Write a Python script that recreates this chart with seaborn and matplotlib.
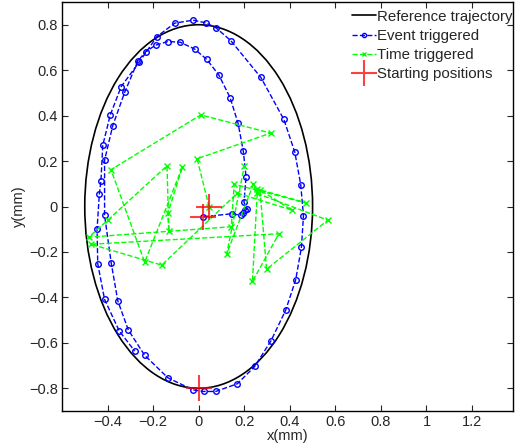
import numpy as np
import pandas as pd
import matplotlib
matplotlib.use("Agg")
import matplotlib.pyplot as plt
from matplotlib.patches import Ellipse
from matplotlib.lines import Line2D
import seaborn as sns

# reference trajectory (ellipse)
ref_center = (0.0, 0.0)
ref_radius_x = 0.5
ref_radius_y = 0.8

# event triggered trajectory
event_x = [0.021, 0.145, 0.188, 0.195, 0.204, 0.212, 0.199, 0.208, 0.196, 0.173,
           0.138, 0.089, 0.036, -0.018, -0.081, -0.136, -0.189, -0.233, -0.267,
           -0.325, -0.377, -0.413, -0.413, -0.384, -0.355, -0.309, -0.237, -0.135, -0.025,
           0.022, 0.075, 0.170, 0.246, 0.318, 0.382, 0.426, 0.451, 0.460, 0.448,
           0.422, 0.374, 0.273, 0.141, 0.078, 0.033, -0.025, -0.105, -0.183, -0.262,
           -0.340, -0.388, -0.421, -0.429, -0.436, -0.446, -0.443, -0.413, -0.349, -0.281]
event_y = [-0.045, -0.032, -0.039, -0.028, -0.017, -0.013, 0.019, 0.131, 0.243, 0.366,
           0.479, 0.578, 0.647, 0.693, 0.723, 0.726, 0.710, 0.681, 0.640,
           0.502, 0.356, 0.204, -0.038, -0.248, -0.415, -0.543, -0.655, -0.754, -0.807,
           -0.814, -0.814, -0.780, -0.704, -0.590, -0.456, -0.322, -0.180, -0.041, 0.096,
           0.239, 0.383, 0.568, 0.730, 0.785, 0.808, 0.820, 0.807, 0.748, 0.634,
           0.528, 0.403, 0.269, 0.112, 0.054, -0.100, -0.252, -0.409, -0.547, -0.636]

# time triggered trajectory
time_x = [0.046, -0.007, 0.316, 0.009, -0.385, -0.237, -0.071, -0.135, -0.131, -0.139,
          -0.399, -0.483, 0.143, 0.156, 0.470, 0.258, 0.236, 0.352, -0.473, -0.162,
          0.170, 0.409, 0.269, 0.298, 0.567, 0.254, 0.240, 0.123, 0.201]
time_y = [-0.002, 0.210, 0.323, 0.403, 0.162, -0.245, 0.175, -0.028, -0.110, 0.179,
          -0.060, -0.135, -0.089, 0.098, 0.016, 0.077, -0.330, -0.120, -0.166, -0.258,
          0.059, -0.016, 0.073, -0.276, -0.060, 0.058, 0.098, -0.209, 0.180]

# starting positions
start_x = [0.0, 0.046, 0.021]
start_y = [-0.8, -0.002, -0.045]

x_ticks = [-0.4, -0.2, 0, 0.2, 0.4, 0.6, 0.8, 1, 1.2]
y_ticks = [-0.8, -0.6, -0.4, -0.2, 0, 0.2, 0.4, 0.6, 0.8]

sns.set_style("white", {"xtick.direction": "in", "ytick.direction": "in",
                        "axes.edgecolor": "black"})
plt.rcParams['font.family'] = ['Liberation Sans', 'DejaVu Sans']

fig, ax = plt.subplots(figsize=(5.23, 4.45), dpi=100)
fig.subplots_adjust(left=0.1185, right=0.981, bottom=0.0764, top=0.9955)

ax.add_patch(Ellipse(ref_center, 2 * ref_radius_x, 2 * ref_radius_y,
                     fill=False, edgecolor='black', lw=1.2))

ev = pd.DataFrame({'x': event_x, 'y': event_y})
sns.lineplot(data=ev, x='x', y='y', sort=False, estimator=None, ax=ax,
             color='blue', linestyle='--', lw=1, marker='o', markersize=4,
             markerfacecolor='none', markeredgecolor='blue', markeredgewidth=1)

tt = pd.DataFrame({'x': time_x, 'y': time_y})
sns.lineplot(data=tt, x='x', y='y', sort=False, estimator=None, ax=ax,
             color='#00ff00', linestyle='--', lw=1, marker='x', markersize=4,
             markeredgecolor='#00ff00', markeredgewidth=1)

st = pd.DataFrame({'x': start_x, 'y': start_y})
sns.scatterplot(data=st, x='x', y='y', ax=ax, marker='+', s=360,
                color='red', linewidth=1.5, alpha=0.75, zorder=5)

ax.set_xlim(-0.6, 1.38)
ax.set_ylim(-0.9, 0.9)
ax.set_xticks(x_ticks)
ax.set_yticks(y_ticks)
fmt = lambda v: f"{v:g}".replace('-', '\u2212')
ax.set_xticklabels([fmt(v) for v in x_ticks], fontsize=10.5)
ax.set_yticklabels([fmt(v) for v in y_ticks], fontsize=10.5)
ax.tick_params(which='both', direction='in', length=4, width=0.8,
               top=True, right=True, bottom=True, left=True, pad=3)
for s in ax.spines.values():
    s.set_linewidth(1)
    s.set_color('black')
ax.set_xlabel("x(mm)", fontsize=10.5, labelpad=0)
ax.set_ylabel("y(mm)", fontsize=10.5, labelpad=2)

handles = [
    Line2D([], [], color='black', lw=1.2),
    Line2D([], [], color='blue', ls='--', lw=1, marker='o', markersize=3,
           markerfacecolor='none'),
    Line2D([], [], color='#00ff00', ls='--', lw=1, marker='x', markersize=3),
    Line2D([], [], color='red', ls='', marker='+', markersize=19, mew=1.5, alpha=0.75),
]
labels = ["Reference trajectory", "Event triggered", "Time triggered", "Starting positions"]
ax.legend(handles, labels, loc='upper right', bbox_to_anchor=(1.0155, 1.0),
          frameon=False, fontsize=10.8,
          handlelength=1.6, handletextpad=0.1, labelspacing=0.35,
          borderaxespad=0.3, borderpad=0.2)

fig.savefig("out.png", dpi=100)
